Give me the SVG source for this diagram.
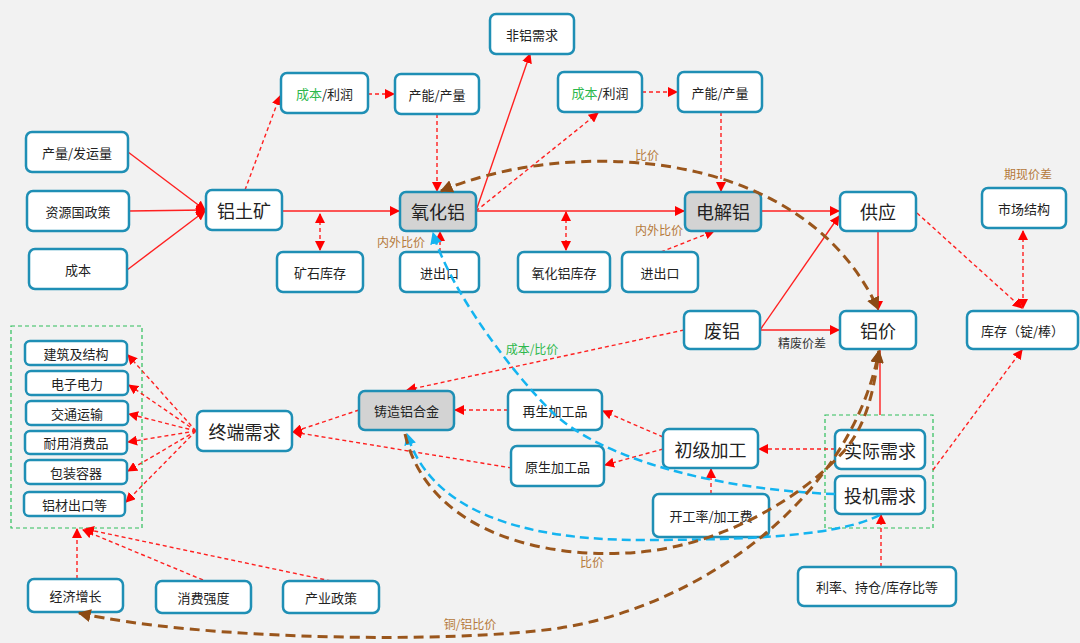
<svg xmlns="http://www.w3.org/2000/svg" width="1080" height="643" viewBox="0 0 1080 643">
<defs>
<style>
.n rect{fill:#fff;stroke:#1F8FB5;stroke-width:2.5}
.g rect{fill:#D3D3D3}
.n text{font-family:"Noto Sans CJK SC",sans-serif;font-size:13px;fill:#222;text-anchor:middle;dominant-baseline:central}
.n text.b{font-size:18px}
.rs{stroke:#FF2020;stroke-width:1.4;fill:none}
.rd{stroke:#FF2020;stroke-width:1.4;fill:none;stroke-dasharray:4 3}
.br{stroke:#9A561C;stroke-width:3;fill:none;stroke-dasharray:10 6}
.bl{stroke:#14B4F0;stroke-width:2.5;fill:none;stroke-dasharray:9 5}
.lbl{font-family:"Noto Sans CJK SC",sans-serif;font-size:12px;text-anchor:middle;dominant-baseline:central}
.gb{fill:none;stroke:#2EBE5A;stroke-width:1.2;stroke-dasharray:4 3}
</style>
<marker id="ar" viewBox="0 0 10 10" refX="9" refY="5" markerWidth="10" markerHeight="10" markerUnits="userSpaceOnUse" orient="auto-start-reverse"><path d="M0,0 L10,5 L0,10 z" fill="#FF0000"/></marker>
<marker id="ab" viewBox="0 0 10 10" refX="9" refY="5" markerWidth="13" markerHeight="13" markerUnits="userSpaceOnUse" orient="auto-start-reverse"><path d="M0,0 L10,5 L0,10 z" fill="#8B4A14"/></marker>
<marker id="au" viewBox="0 0 10 10" refX="9" refY="5" markerWidth="12" markerHeight="12" markerUnits="userSpaceOnUse" orient="auto-start-reverse"><path d="M0,0 L10,5 L0,10 z" fill="#14B4F0"/></marker>
</defs>
<rect width="1080" height="643" fill="#F2F2F2"/>
<rect class="gb" x="11" y="326" width="131" height="202"/>
<rect class="gb" x="825" y="415" width="108" height="113"/>
<g id="connectors">
<path class="rs" d="M128,152 L205,210" marker-end="url(#ar)"/>
<path class="rs" d="M129,211 L205,210" marker-end="url(#ar)"/>
<path class="rs" d="M127,270 L205,211" marker-end="url(#ar)"/>
<path class="rs" d="M282,211 L399,211" marker-end="url(#ar)"/>
<path class="rs" d="M476,211 L684,211" marker-end="url(#ar)"/>
<path class="rs" d="M476,211 L530,54" marker-end="url(#ar)"/>
<path class="rs" d="M761,211 L839,211" marker-end="url(#ar)"/>
<path class="rs" d="M878,231 L878,310" marker-end="url(#ar)"/>
<path class="rs" d="M760,330 L839,330" marker-end="url(#ar)"/>
<path class="rs" d="M760,330 L839,216" marker-end="url(#ar)"/>
<path class="rs" d="M880,415 L880,350"/>
<path class="rd" d="M245,190 L280,96" marker-end="url(#ar)"/>
<path class="rd" d="M368,94 L394,94" marker-end="url(#ar)"/>
<path class="rd" d="M437,114 L437,191" marker-end="url(#ar)"/>
<path class="rd" d="M320,214 L320,250" marker-start="url(#ar)" marker-end="url(#ar)"/>
<path class="rd" d="M440,252 L440,232" marker-end="url(#ar)"/>
<path class="rd" d="M476,211 L598,113" marker-end="url(#ar)"/>
<path class="rd" d="M642,92 L677,92" marker-end="url(#ar)"/>
<path class="rd" d="M721,112 L721,191" marker-end="url(#ar)"/>
<path class="rd" d="M566,212 L566,250" marker-start="url(#ar)" marker-end="url(#ar)"/>
<path class="rd" d="M661,252 L714,231" marker-end="url(#ar)"/>
<path class="rd" d="M917,213 L1022,308" marker-end="url(#ar)"/>
<path class="rd" d="M1023,231 L1023,308" marker-start="url(#ar)" marker-end="url(#ar)"/>
<path class="rd" d="M933,470 L1022,350" marker-end="url(#ar)"/>
<path class="rd" d="M684,330 L407,390" marker-end="url(#ar)"/>
<path class="rd" d="M508,410 L455,410" marker-end="url(#ar)"/>
<path class="rd" d="M359,410 L293,432" marker-end="url(#ar)"/>
<path class="rd" d="M512,468 L293,432" marker-end="url(#ar)"/>
<path class="rd" d="M663,437 L603,411" marker-end="url(#ar)"/>
<path class="rd" d="M663,449 L605,465" marker-end="url(#ar)"/>
<path class="rd" d="M835,449 L759,449" marker-end="url(#ar)"/>
<path class="rd" d="M711,494 L711,469" marker-end="url(#ar)"/>
<path class="rd" d="M881,567 L881,515" marker-end="url(#ar)"/>
<path class="rd" d="M196,431 L128,355" marker-end="url(#ar)"/>
<path class="rd" d="M196,431 L129,385" marker-end="url(#ar)"/>
<path class="rd" d="M196,431 L129,414" marker-end="url(#ar)"/>
<path class="rd" d="M196,431 L128,442" marker-end="url(#ar)"/>
<path class="rd" d="M196,431 L128,471" marker-end="url(#ar)"/>
<path class="rd" d="M196,431 L126,502" marker-end="url(#ar)"/>
<path class="rd" d="M77,579 L77,529" marker-end="url(#ar)"/>
<path class="rd" d="M203,580 L83,530" marker-end="url(#ar)"/>
<path class="rd" d="M331,581 L85,529" marker-end="url(#ar)"/>
</g>
<g id="labels">
<text class="lbl" x="647" y="154" fill="#B5793A">比价</text>
<text class="lbl" x="401" y="241" fill="#B5793A">内外比价</text>
<text class="lbl" x="659" y="229" fill="#B5793A">内外比价</text>
<text class="lbl" x="1028" y="173" fill="#B5793A">期现价差</text>
<text class="lbl" x="802" y="342" fill="#333">精废价差</text>
<text class="lbl" x="532" y="348" fill="#2DB84C">成本/比价</text>
<text class="lbl" x="592" y="561" fill="#B5793A">比价</text>
<text class="lbl" x="470" y="623" fill="#B5793A">铜/铝比价</text>
</g>
<g id="n-feilv" class="n"><rect x="490" y="14" width="84" height="40" rx="6"/><text x="532" y="34">非铝需求</text></g>
<g id="n-cblr1" class="n"><rect x="281" y="73" width="87" height="40" rx="6"/><text x="324.5" y="93"><tspan fill="#2DB84C">成本</tspan>/利润</text></g>
<g id="n-cncl1" class="n"><rect x="395" y="74" width="84" height="40" rx="6"/><text x="437" y="94">产能/产量</text></g>
<g id="n-cblr2" class="n"><rect x="558" y="72" width="84" height="40" rx="6"/><text x="600" y="92"><tspan fill="#2DB84C">成本</tspan>/利润</text></g>
<g id="n-cncl2" class="n"><rect x="678" y="72" width="84" height="40" rx="6"/><text x="720" y="92">产能/产量</text></g>
<g id="n-clfyl" class="n"><rect x="26" y="132" width="102" height="40" rx="6"/><text x="77" y="152">产量/发运量</text></g>
<g id="n-zygzc" class="n"><rect x="27" y="191" width="102" height="40" rx="6"/><text x="78" y="211">资源国政策</text></g>
<g id="n-cb" class="n"><rect x="29" y="249" width="98" height="40" rx="6"/><text x="78" y="269">成本</text></g>
<g id="n-ltk" class="n"><rect x="206" y="190" width="76" height="40" rx="6"/><text class="b" x="244" y="210">铝土矿</text></g>
<g id="n-yhl" class="n g"><rect x="400" y="192" width="76" height="39" rx="6"/><text class="b" x="438" y="211">氧化铝</text></g>
<g id="n-djl" class="n g"><rect x="685" y="192" width="76" height="39" rx="6"/><text class="b" x="723" y="211">电解铝</text></g>
<g id="n-gy" class="n"><rect x="840" y="192" width="76" height="39" rx="6"/><text class="b" x="878" y="211">供应</text></g>
<g id="n-scjg" class="n"><rect x="982" y="188" width="84" height="40" rx="6"/><text x="1024" y="208">市场结构</text></g>
<g id="n-kskc" class="n"><rect x="277" y="252" width="86" height="40" rx="6"/><text x="320" y="272">矿石库存</text></g>
<g id="n-jck1" class="n"><rect x="400" y="252" width="79" height="40" rx="6"/><text x="439.5" y="272">进出口</text></g>
<g id="n-yhlkc" class="n"><rect x="518" y="252" width="92" height="40" rx="6"/><text x="564" y="272">氧化铝库存</text></g>
<g id="n-jck2" class="n"><rect x="622" y="252" width="76" height="40" rx="6"/><text x="660" y="272">进出口</text></g>
<g id="n-fl" class="n"><rect x="684" y="311" width="76" height="38" rx="6"/><text class="b" x="722" y="330">废铝</text></g>
<g id="n-lj" class="n"><rect x="840" y="311" width="76" height="38" rx="6"/><text class="b" x="878" y="330">铝价</text></g>
<g id="n-kc" class="n"><rect x="967" y="311" width="111" height="38" rx="6"/><text x="1022.5" y="330">库存（锭/棒）</text></g>
<g id="n-jz" class="n"><rect x="25" y="341" width="102" height="24" rx="5"/><text x="76" y="353">建筑及结构</text></g>
<g id="n-dz" class="n"><rect x="26" y="371" width="102" height="24" rx="5"/><text x="77" y="383">电子电力</text></g>
<g id="n-jt" class="n"><rect x="26" y="401" width="102" height="24" rx="5"/><text x="77" y="413">交通运输</text></g>
<g id="n-ny" class="n"><rect x="25" y="431" width="102" height="23" rx="5"/><text x="76" y="442.5">耐用消费品</text></g>
<g id="n-bz" class="n"><rect x="25" y="460" width="102" height="24" rx="5"/><text x="76" y="472">包装容器</text></g>
<g id="n-lc" class="n"><rect x="24" y="492" width="101" height="24" rx="5"/><text x="74.5" y="504">铝材出口等</text></g>
<g id="n-zdxq" class="n"><rect x="197" y="411" width="95" height="40" rx="6"/><text class="b" x="244.5" y="431">终端需求</text></g>
<g id="n-zzlhj" class="n g"><rect x="359" y="391" width="95" height="39" rx="6"/><text x="406.5" y="410.5">铸造铝合金</text></g>
<g id="n-zs" class="n"><rect x="508" y="390" width="94" height="40" rx="6"/><text x="555" y="410">再生加工品</text></g>
<g id="n-ys" class="n"><rect x="511" y="446" width="93" height="40" rx="6"/><text x="557.5" y="466">原生加工品</text></g>
<g id="n-cjjg" class="n"><rect x="663" y="429" width="95" height="39" rx="6"/><text class="b" x="710.5" y="448.5">初级加工</text></g>
<g id="n-sjxq" class="n"><rect x="835" y="430" width="90" height="39" rx="6"/><text class="b" x="880" y="449.5">实际需求</text></g>
<g id="n-tjxq" class="n"><rect x="835" y="476" width="90" height="38" rx="6"/><text class="b" x="880" y="495">投机需求</text></g>
<g id="n-kgl" class="n"><rect x="653" y="494" width="116" height="43" rx="6"/><text x="711" y="515.5">开工率/加工费</text></g>
<g id="n-ll" class="n"><rect x="798" y="567" width="158" height="39" rx="6"/><text x="877" y="586.5">利率、持仓/库存比等</text></g>
<g id="n-jjzz" class="n"><rect x="28" y="579" width="95" height="33" rx="6"/><text x="75.5" y="595.5">经济增长</text></g>
<g id="n-xfqd" class="n"><rect x="156" y="581" width="95" height="32" rx="6"/><text x="203.5" y="597">消费强度</text></g>
<g id="n-cyzc" class="n"><rect x="283" y="581" width="96" height="32" rx="6"/><text x="331" y="597">产业政策</text></g>
<g id="price-curves">
<path class="bl" d="M835,494 C720,490 600,460 550,410 C510,370 450,290 433,233" marker-end="url(#au)"/>
<path class="bl" d="M880,515 C840,535 760,540 640,540 C520,540 430,510 407,434" marker-end="url(#au)"/>
<path class="br" d="M441,191 C560,140 800,140 878,309" marker-start="url(#ab)" marker-end="url(#ab)"/>
<path class="br" d="M405,434 C430,540 560,560 640,552 C720,545 800,500 845,450 C870,420 875,380 879,351" marker-end="url(#ab)"/>
<path class="br" d="M79,613 C200,640 450,644 560,628 C700,606 850,500 879,351" marker-start="url(#ab)" marker-end="url(#ab)"/>
</g>
</svg>
